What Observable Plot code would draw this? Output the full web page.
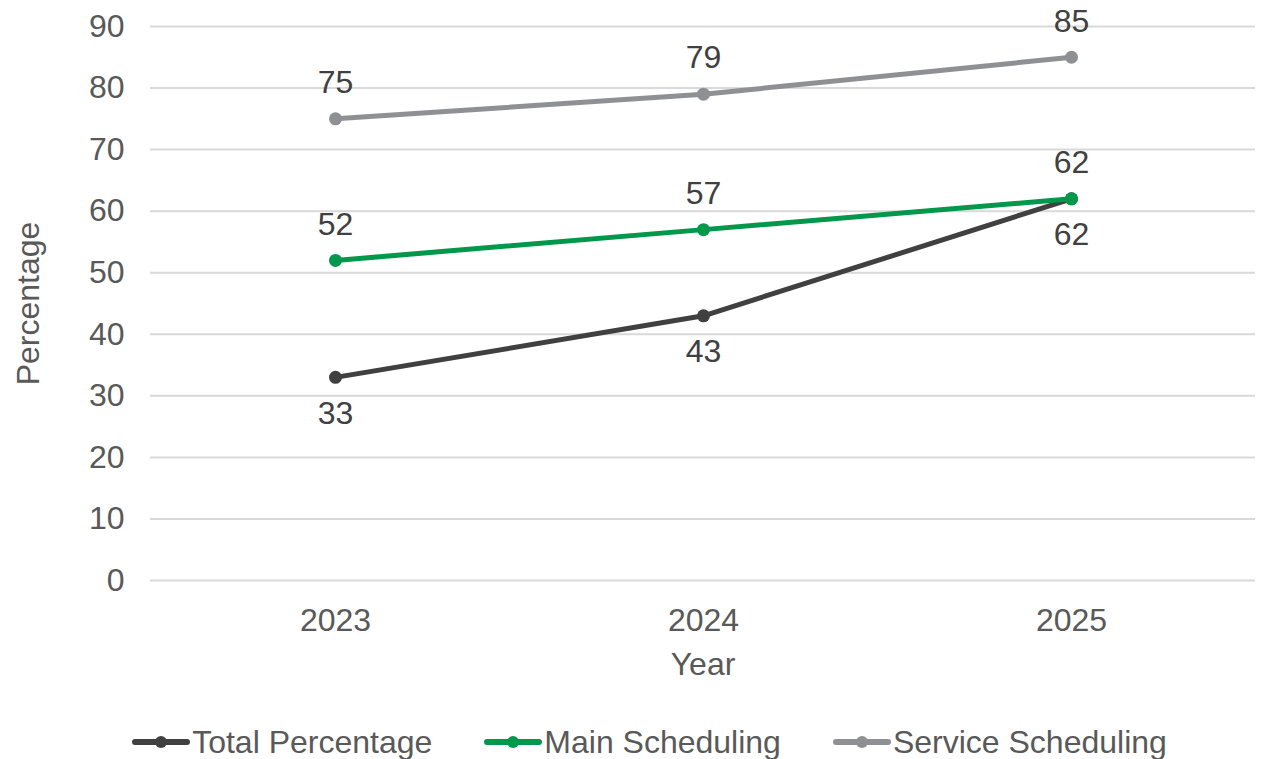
<!DOCTYPE html>
<html>
<head>
<meta charset="utf-8">
<script src="https://cdn.jsdelivr.net/npm/d3@7"></script>
<script src="https://cdn.jsdelivr.net/npm/@observablehq/plot@0.6"></script>
<style>
  html, body { margin: 0; padding: 0; background: #fff; }
  body { width: 1261px; height: 759px; overflow: hidden; font-family: "Liberation Sans", Arial, sans-serif; }
  #legend { display: flex; justify-content: center; align-items: center; height: 34px; margin-top: 25px; padding-left: 38px; font-size: 32px; color: #595959; }
  .item { display: flex; align-items: center; margin: 0 26px; }
  .item svg { margin-right: 2px; }
</style>
</head>
<body>
<div id="chart"></div>
<div id="legend"></div>
<script>
const years = ["2023", "2024", "2025"];
const seriesNames = ["Total Percentage", "Main Scheduling", "Service Scheduling"];
const totalPercentage = [33, 43, 62];
const mainScheduling = [52, 57, 62];
const serviceScheduling = [75, 79, 85];
const colors = ["#404040", "#00994C", "#8E9094"];
const labelOffsets = [36, -36, -36];
const yTicks = [0, 10, 20, 30, 40, 50, 60, 70, 80, 90];

const seriesValues = [totalPercentage, mainScheduling, serviceScheduling];
const rows = [];
seriesNames.forEach((s, i) => years.forEach((y, j) => rows.push({series: s, year: y, value: seriesValues[i][j], idx: i})));

const marks = [
  Plot.gridY(yTicks, {stroke: "#d9d9d9", strokeOpacity: 1, strokeWidth: 2}),
  Plot.axisY(yTicks, {tickSize: 0, tickPadding: 26, fontSize: 32, fill: "#595959", label: "Percentage", labelAnchor: "center", labelOffset: 134, labelArrow: "none"}),
  Plot.axisX(years, {tickSize: 0, tickPadding: 28, fontSize: 32, fill: "#595959", label: "Year", labelAnchor: "center", labelOffset: 94, labelArrow: "none"})
];
seriesNames.forEach((s, i) => {
  const d = rows.filter(r => r.series === s);
  marks.push(Plot.line(d, {x: "year", y: "value", stroke: colors[i], strokeWidth: 5}));
  marks.push(Plot.dot(d, {x: "year", y: "value", fill: colors[i], r: 6.5}));
});
seriesNames.forEach((s, i) => {
  const d = rows.filter(r => r.series === s);
  marks.push(Plot.text(d, {x: "year", y: "value", text: r => String(r.value), dy: labelOffsets[i], fill: "#404040", fontSize: 32}));
});

const chart = Plot.plot({
  width: 1261,
  height: 700,
  marginTop: 26,
  marginBottom: 120,
  marginLeft: 150,
  marginRight: 6,
  style: {fontFamily: "'Liberation Sans', Arial, sans-serif", fontSize: "32px", color: "#595959", background: "#fff"},
  x: {type: "point", domain: years, padding: 0.5},
  y: {domain: [0, 90]},
  marks
});
document.getElementById("chart").appendChild(chart);

const legend = document.getElementById("legend");
seriesNames.forEach((s, i) => {
  const item = document.createElement("div");
  item.className = "item";
  item.innerHTML = `<svg width="58" height="16"><line x1="3" y1="8" x2="55" y2="8" stroke="${colors[i]}" stroke-width="6" stroke-linecap="round"/><circle cx="29" cy="8" r="6" fill="${colors[i]}"/></svg><span>${s}</span>`;
  legend.appendChild(item);
});
</script>
</body>
</html>
